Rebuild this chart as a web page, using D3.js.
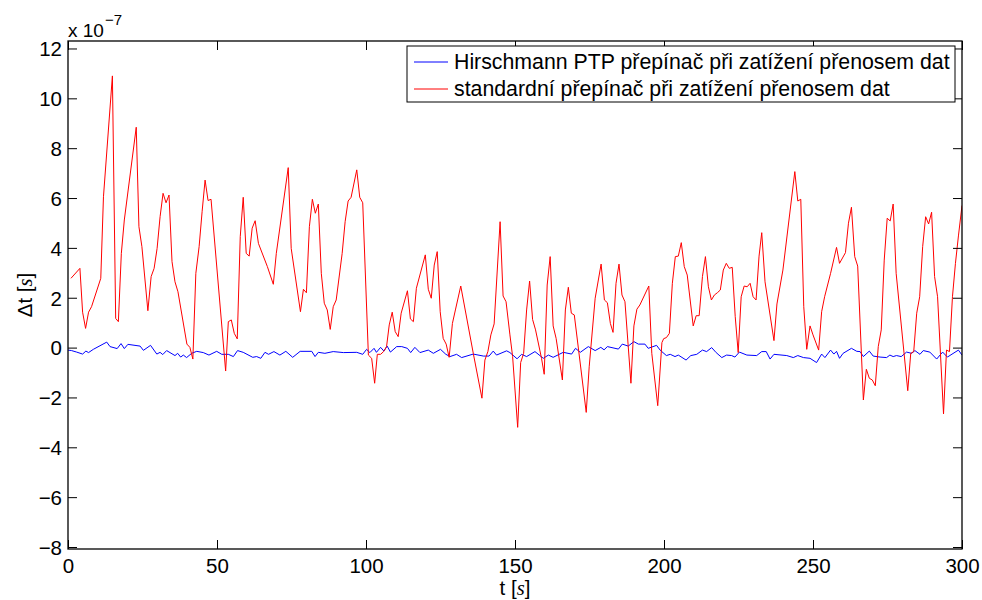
<!DOCTYPE html>
<html>
<head>
<meta charset="utf-8">
<script src="https://cdn.jsdelivr.net/npm/d3@7"></script>
<style>
  html, body { margin: 0; padding: 0; background: #fff; }
  svg { display: block; }
  text { font-family: "Liberation Sans", Arial, Helvetica, sans-serif; fill: #000; }
</style>
</head>
<body>
<svg id="chart" width="982" height="600"></svg>
<script>
// ---------- data (values in units of 1e-7 s) ----------
const xTicks = [0, 50, 100, 150, 200, 250, 300];
const yTicks = [-8, -6, -4, -2, 0, 2, 4, 6, 8, 10, 12];
const legendLabels = [
  "Hirschmann PTP přepínač při zatížení přenosem dat",
  "standardní přepínač při zatížení přenosem dat"
];

const redT = [1,4,4.9,5.9,6.9,7.9,11,11.9,14.9,16,16.9,17.9,18.9,22.9,23.8,24.8,26.8,27.9,28.9,29.9,30.9,31.9,32.9,33.9,34.9,35.9,36.9,39.9,40.9,41.9,42.9,44,45,46,47,48,
  52.9,53.8,54.8,55.8,56.8,57.8,58.8,59.8,60.8,61.8,62.8,63.9,66.9,68.9,69.9,73.9,74.9,78,79,80,81,82,83,84,85,86,87,88,89,90,92,93,94,95,96.9,97.9,98.9,
  100.8,101.9,102.9,103.8,104.9,105.9,106.9,107.8,108.8,109.8,110.8,111.8,113.9,114.9,115.9,116.9,119.9,120.9,121.9,122.9,123.9,124.9,125.9,126.9,127.9,129,130,131.8,136,138.9,139.9,140.9,141.9,143,145,146,147,148.3,149.2,
  150.9,151.9,152.9,153.9,154.9,155.9,156.9,158.9,159.8,160.8,161.8,162.8,163.8,165.9,166.9,167.9,168.9,169.9,173.9,174.9,176.9,178.9,180,181,182,182.9,183.9,184.9,185.9,186.9,188.9,189.9,190.9,191.9,194.9,195.9,197.9,
  199.3,199.9,200.8,201.8,202.8,203.8,204.8,205.8,206.8,207.8,209.8,210.8,211.8,212.9,213.9,214.9,215.9,216.9,217.9,218.9,219.9,220.9,221.9,222.9,223.9,224.9,225.9,226.9,227.9,228.9,229.9,230.9,231.9,232.8,233.9,236.9,237.9,239.9,243.9,244.9,245.9,246.9,247.9,249,
  250,251.9,252.9,253.9,255.9,257.9,258.9,260.9,261.9,262.9,264,265,266.9,267.9,268.9,269.9,270.9,271.9,272.9,273.9,274.9,275.9,276.9,277.9,281.8,282.8,283.8,284.8,285.8,286.8,287.8,288.8,289.8,290.8,291.8,293.8,294.8,295.8,296.8,297.8,298.8,300];
const redV = [2.78,3.18,1.42,0.77,1.42,1.64,2.78,6.05,10.9,1.17,1.04,3.78,5.12,8.84,4.85,4.05,1.48,2.85,3.18,3.98,5.25,6.19,5.81,6.12,3.45,2.64,2.24,0.14,0.01,-0.46,2.98,4.05,5.45,6.72,5.90,5.95,
  -0.94,1.04,1.11,0.57,0.35,4.45,6.03,3.78,3.67,4.79,5.09,4.18,3.25,2.54,3.78,7.22,3.98,1.44,2.34,2.20,4.85,5.95,5.39,5.76,2.98,1.78,1.51,0.73,1.64,1.91,3.78,5.05,5.88,6.03,7.13,6.03,5.81,
  -0.30,-0.43,-1.43,-0.27,-0.27,-0.16,0.04,0.91,1.42,0.64,0.44,1.38,2.28,1.15,1.04,2.38,3.72,2.34,1.98,3.31,3.85,1.44,0.37,0.14,-0.39,0.97,1.51,2.47,-0.23,-2.03,-0.50,-0.16,0.51,0.95,5.05,2.07,1.84,0.51,-0.36,
  -3.20,-0.60,-0.23,1.51,2.67,1.13,0.71,-0.43,-1.07,2.51,3.65,0.87,0.37,-1.30,1.51,2.42,1.38,1.31,-2.60,-0.77,1.98,3.35,1.91,1.80,0.97,0.61,2.58,3.35,2.11,1.84,-1.43,0.87,1.54,1.71,2.47,-0.23,-2.33,
  0.20,0.36,0.40,0.57,2.58,3.65,3.67,4.21,3.25,2.91,0.87,1.28,1.28,2.85,3.65,2.44,1.91,2.11,2.20,2.31,3.11,3.38,3.18,3.22,1.24,-0.20,2.04,2.47,2.44,2.58,2.04,1.91,3.67,4.61,2.64,0.28,1.75,3.11,7.06,5.88,5.95,1.64,-0.07,0.87,
  0.51,-0.10,1.44,2.04,2.98,4.02,3.38,3.81,4.99,5.63,3.65,3.27,-2.10,-0.87,-1.23,-1.30,-1.53,0.04,0.71,3.51,5.19,5.08,5.76,2.98,-1.73,-0.23,-0.16,1.38,2.04,4.05,5.25,4.96,5.43,2.85,2.04,-2.66,-0.10,-0.16,2.04,3.38,4.48,5.70];

const blueT = [0,1.2,2.9,4.9,6,6.9,8.5,13,14.1,16.5,17.8,18.9,20.1,24.2,25.3,27.7,29.8,30.9,31.8,33.1,35.9,36.8,37.8,38.7,39.8,41.5,43.2,45.4,47.3,49.9,
  51.6,53.8,55.5,56.9,58.8,62,63.3,64.7,66.1,67.3,69.1,71.1,73.1,75.4,77.9,81.8,82.9,84,86.2,89,92.4,96.9,98.9,
  100.2,101.3,102.7,103.5,104.9,106,107.1,108.2,110.3,112,113.9,115,116.4,118.1,120.9,122.6,125,126.8,128.2,130.4,132.1,136,139.4,141.3,142.7,143.8,147.2,148.3,
  150.7,152.2,153.9,156.7,159.5,161.2,162.8,166.2,169,170.3,171.9,174.6,176.9,178.8,179.9,181,184.7,186,188,189.9,191.4,193.6,194.7,197.5,198.7,
  200.8,202.1,203.7,204.8,207.4,209,211,212.9,214.3,216,217.5,219.4,221,222.7,223.8,225.3,227.8,231.1,232.8,234.3,235.6,236.9,241.2,243.4,244.9,246.8,249,
  251.2,252.9,254,255.9,257,257.9,258.9,260.1,262.9,264.7,265.8,266.9,268.9,270.2,272.5,274.7,275.8,276.9,278,279.6,281.4,283.1,284.2,285.9,287,289.2,291.5,293.5,295.1,298.8,300];
const blueV = [-0.10,-0.12,-0.18,-0.26,-0.14,-0.20,-0.07,0.22,0.04,-0.04,0.16,-0.04,0.13,0.06,-0.11,0.09,-0.26,-0.19,-0.28,-0.12,-0.32,-0.23,-0.38,-0.30,-0.40,-0.23,-0.15,-0.20,-0.30,-0.15,
  -0.27,-0.27,-0.36,-0.12,-0.19,-0.39,-0.36,-0.43,-0.19,-0.27,-0.16,-0.30,-0.15,-0.39,-0.15,-0.15,-0.36,-0.19,-0.23,-0.16,-0.20,-0.19,-0.27,
  -0.07,-0.20,-0.03,-0.19,0.01,-0.14,0.06,-0.18,0.04,0.04,-0.03,-0.20,0.01,-0.20,-0.10,-0.23,-0.07,-0.27,-0.36,-0.27,-0.40,-0.26,-0.34,-0.34,-0.14,-0.30,-0.13,-0.20,
  -0.45,-0.27,-0.36,-0.16,-0.43,-0.30,-0.39,-0.19,-0.26,-0.03,-0.19,0.04,-0.12,0.01,-0.09,0.04,-0.06,0.14,0.06,0.24,0.14,0.14,-0.03,0.09,-0.10,
  -0.32,-0.27,-0.36,-0.30,-0.50,-0.32,-0.27,-0.10,-0.16,0.00,-0.20,-0.40,-0.30,-0.32,-0.38,-0.18,-0.30,-0.32,-0.16,-0.16,-0.46,-0.27,-0.32,-0.40,-0.32,-0.40,-0.43,
  -0.60,-0.26,-0.40,-0.10,-0.26,-0.15,-0.43,-0.23,-0.03,-0.15,-0.16,-0.36,-0.14,-0.34,-0.38,-0.40,-0.30,-0.36,-0.32,-0.36,-0.18,-0.23,-0.12,-0.27,-0.12,-0.18,-0.46,-0.18,-0.38,-0.10,-0.30];

// ---------- layout ----------
const svg = d3.select("#chart");
const L = 68, R = 962, T = 41, B = 549;
const x = d3.scaleLinear().domain([0, 300]).range([L, R]);
const y = d3.scaleLinear().domain([-8.08, 12.30]).range([B, T]);
const tickLen = 9;

svg.append("defs").append("clipPath").attr("id", "clip")
  .append("rect").attr("x", L).attr("y", T).attr("width", R - L).attr("height", B - T);

// lines
const line = d3.line().x(d => x(d[0])).y(d => y(d[1]));
const blueData = blueT.map((t, i) => [t, blueV[i]]);
const redData = redT.map((t, i) => [t, redV[i]]);

const g = svg.append("g").attr("clip-path", "url(#clip)");
g.append("path").datum(blueData).attr("d", line)
  .attr("fill", "none").attr("stroke", "#0000ff").attr("stroke-width", 1);
g.append("path").datum(redData).attr("d", line)
  .attr("fill", "none").attr("stroke", "#ff0000").attr("stroke-width", 1);

// axes with inward ticks
const fmt = d => (d < 0 ? "\u2212" + Math.abs(d) : String(d));
const axB = svg.append("g").attr("transform", `translate(0,${B})`)
  .call(d3.axisBottom(x).tickValues(xTicks).tickSize(-tickLen).tickPadding(0).tickFormat(fmt));
const axT = svg.append("g").attr("transform", `translate(0,${T})`)
  .call(d3.axisTop(x).tickValues(xTicks).tickSize(-tickLen).tickFormat(""));
const axL = svg.append("g").attr("transform", `translate(${L},0)`)
  .call(d3.axisLeft(y).tickValues(yTicks).tickSize(-tickLen).tickPadding(0).tickFormat(fmt));
const axR = svg.append("g").attr("transform", `translate(${R},0)`)
  .call(d3.axisRight(y).tickValues(yTicks).tickSize(-tickLen).tickFormat(""));

[axB, axT, axL, axR].forEach(a => {
  a.select(".domain").remove();
  a.selectAll(".tick line").attr("stroke", "#000").attr("stroke-width", 1);
});
axB.selectAll(".tick text")
  .attr("font-size", 20.5).attr("font-family", "Liberation Sans, Arial, sans-serif")
  .attr("y", 24).attr("dy", 0);
axL.selectAll(".tick text")
  .attr("font-size", 20.5).attr("font-family", "Liberation Sans, Arial, sans-serif")
  .attr("x", -6).attr("dy", "0.36em");

// box
svg.append("rect").attr("x", L).attr("y", T).attr("width", R - L).attr("height", B - T)
  .attr("fill", "none").attr("stroke", "#000").attr("stroke-width", 1.3);

// exponent label
const ex = svg.append("text").attr("x", 68).attr("y", 36.5).attr("font-size", 19);
ex.append("tspan").text("x 10");
ex.append("tspan").attr("font-size", 15).attr("dx", 1).attr("dy", -11.5).text("\u22127");

// x label
const xl = svg.append("text").attr("x", 515).attr("y", 595).attr("text-anchor", "middle").attr("font-size", 20.5);
xl.append("tspan").text("t [");
xl.append("tspan").attr("font-family", "Liberation Serif, DejaVu Serif, serif").attr("font-style", "italic").text("s");
xl.append("tspan").text("]");

// y label
const yl = svg.append("text").attr("transform", "translate(32,295) rotate(-90)")
  .attr("text-anchor", "middle").attr("font-size", 20.5);
yl.append("tspan").text("\u0394t [");
yl.append("tspan").attr("font-family", "Liberation Serif, DejaVu Serif, serif").attr("font-style", "italic").text("s");
yl.append("tspan").text("]");

// legend
const lg = svg.append("g");
lg.append("rect").attr("x", 407).attr("y", 46).attr("width", 548).attr("height", 56)
  .attr("fill", "#fff").attr("stroke", "#000").attr("stroke-width", 1);
const legColors = ["#0000ff", "#ff0000"];
legendLabels.forEach((lab, i) => {
  const yy = 62 + i * 27;
  lg.append("line").attr("x1", 414).attr("x2", 448).attr("y1", yy).attr("y2", yy)
    .attr("stroke", legColors[i]).attr("stroke-width", 1);
  lg.append("text").attr("x", 454).attr("y", yy + 7).attr("font-size", 21.3).text(lab);
});
</script>
</body>
</html>
